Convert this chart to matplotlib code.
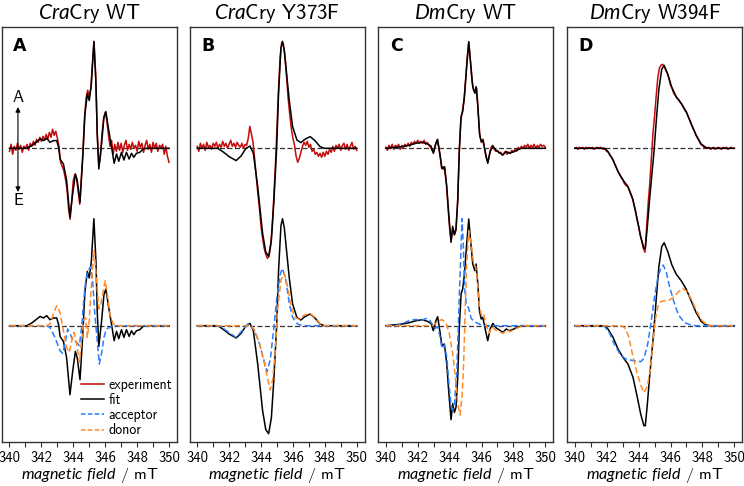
"""
EPR spectra of radical pairs in four cryptochromes, experiment vs. fit
"""

import matplotlib.pyplot as plt
from matplotlib.lines import Line2D
import numpy as np

plt.rcParams["font.family"] = ["cmss10", "DejaVu Sans"]
plt.rcParams["mathtext.fontset"] = "custom"
plt.rcParams["mathtext.rm"] = "cmss10"
plt.rcParams["mathtext.it"] = "Lato:italic"
plt.rcParams["axes.unicode_minus"] = False

# magnetic field grid of the recorded spectra (mT)
field = np.linspace(340.0, 350.0, 101)

titles = [r"$\it{Cra}$Cry WT", r"$\it{Cra}$Cry Y373F", r"$\it{Dm}$Cry WT", r"$\it{Dm}$Cry W394F"]
letters = ["A", "B", "C", "D"]
xticks = [340, 342, 344, 346, 348, 350]

# ---- A: CraCry WT ----
a_exp = [-3, 4, -6, 2, -2, 5, -1, 3, -4, 2,
         0, 4, -2, 5, 2, 7, 3, 9, 6, 11,
         7, 12, 8, 14, 9, 16, 11, 19, 13, 17,
         10, 2, -14, -18, -22, -30, -40, -60, -71, -52,
         -32, -26, -30, -42, -56, -30, -5, 30, 50, 58,
         52, 60, 85, 106, 75, 15, -18, -8, 15, 30,
         36, 28, 14, 2, 8, -6, 4, -3, 6, -2,
         5, -4, 3, 8, -2, 4, -1, 6, 0, 3,
         -3, 7, 1, 5, -4, 3, 8, -1, 4, -4,
         6, 0, 5, -3, 3, 1, 4, -6, 2, -8, -14]
a_fit = np.array([
    [340.0, 0], [341.08, 0], [341.40, 2.7], [341.92, 9.3], [342.13, 7.7], [342.33, 10],
    [342.54, 6], [342.75, 7.7], [342.96, 7.7], [343.08, 1], [343.17, -10.7], [343.38, -15.7],
    [343.58, -32], [343.79, -69], [343.96, -45.7], [344.13, -25.7], [344.25, -32.3],
    [344.42, -54], [344.58, -12.3], [344.73, 34.3], [344.88, 54.3], [345.0, 47.7],
    [345.13, 64.3], [345.29, 107], [345.42, 64.3], [345.5, 14.3], [345.6, -20.7],
    [345.77, 4.3], [345.92, 31], [346.04, 36.7], [346.19, 21], [346.40, 1], [346.56, -15],
    [346.71, -5.7], [346.85, -13], [347.02, -4], [347.17, -11.7], [347.33, -4],
    [347.5, -10.7], [347.65, -5], [347.79, -9], [347.96, -5], [348.17, -4], [348.38, -0.7],
    [348.58, 0], [350.0, 0]])
a_acc = np.array([
    [340.0, 0], [342.33, 0], [342.54, -1.7], [342.85, -11.7], [343.17, -25], [343.33, -27.7],
    [343.48, -18], [343.65, -3.3], [343.79, -8], [344.0, -15], [344.21, -16.7], [344.38, -20],
    [344.52, -1.7], [344.67, 28], [344.79, 46.7], [344.94, 55], [345.08, 59], [345.21, 45],
    [345.35, 11.7], [345.5, -15], [345.63, -38.3], [345.77, -28], [345.92, -11.7],
    [346.08, -3.3], [346.29, -1.7], [346.5, 0], [350.0, 0]])
a_don = np.array([
    [340.0, 0], [342.33, 0], [342.54, 1.7], [342.75, 11.7], [342.96, 20], [343.17, 13.3],
    [343.38, -5], [343.58, -21.7], [343.75, -26.7], [343.9, -15], [344.04, -6.7],
    [344.21, -18.3], [344.38, -36.7], [344.52, -15], [344.67, 6.7], [344.79, 7.7],
    [344.88, -11.7], [345.0, 5], [345.08, 28], [345.21, 58], [345.31, 75], [345.46, 45],
    [345.6, 16.7], [345.73, 21.7], [345.88, 35], [346.0, 45], [346.13, 31.7],
    [346.29, 11.7], [346.5, 1.7], [346.7, 0], [350.0, 0]])

# ---- B: CraCry Y373F ----
b_exp = [2, -3, 5, 0, 4, -2, 6, 1, 3, -1,
         5, 2, 6, 0, 4, 1, 7, 2, 5, 0,
         4, 8, 2, 5, 1, 6, 3, 1, 5, 0,
         4, 3, 10, 22, 14, 6, -10, -28, -45, -60,
         -78, -90, -100, -106, -110, -108, -98, -78, -50, -18,
         20, 60, 92, 106, 104, 92, 72, 50, 34, 20,
         10, 3, -8, -14, -10, -4, 2, 6, 3, 7,
         1, 4, -3, -1, -6, -4, -8, -5, -9, -4,
         -8, -3, -6, -1, -4, 2, -3, 3, 0, 4,
         -2, 3, 5, -1, 4, -2, 2, 6, -1, 2, -2]
b_fit = np.array([
    [340.0, 0], [341.29, 0], [341.6, -3.3], [342.0, -8.3], [342.44, -12.3], [342.75, -7.7],
    [343.06, 0], [343.31, 2.3], [343.52, -5], [343.79, -38], [344.1, -85], [344.3, -104],
    [344.48, -108], [344.65, -92], [344.8, -55], [344.98, 0], [345.1, 55], [345.25, 100],
    [345.35, 107], [345.46, 98], [345.56, 81.7], [345.77, 48], [345.98, 21.7],
    [346.25, 8.3], [346.5, 5.7], [346.75, 9], [347.08, 11.7], [347.38, 7.7], [347.7, 1.7],
    [347.96, 0], [350.0, 0]])
b_acc = np.array([
    [340.0, 0], [341.29, 0], [341.5, -1], [341.92, -6], [342.44, -11.7], [342.85, -4.3],
    [343.23, 2.3], [343.58, -4.3], [343.9, -17.7], [344.17, -34], [344.38, -46],
    [344.58, -34], [344.79, -4.3], [345.0, 29], [345.21, 52], [345.35, 57.3],
    [345.56, 45.7], [345.77, 22.3], [345.98, 8.3], [346.29, 1.7], [346.6, 0], [350.0, 0]])
b_don = np.array([
    [340.0, 0], [343.38, 0], [343.58, -4.3], [343.9, -17.7], [344.21, -37.7], [344.46, -56],
    [344.58, -64.3], [344.73, -54], [344.88, -27.7], [345.04, 15.7], [345.25, 45.7],
    [345.46, 52.3], [345.67, 39], [345.88, 19], [346.13, 8.3], [346.4, 6.3], [346.71, 10.7],
    [347.08, 12.3], [347.44, 7.3], [347.75, 1.3], [347.96, 0], [350.0, 0]])

# ---- C: DmCry WT ----
c_exp = [1, -2, 3, 0, 4, -1, 3, 1, 4, -1,
         3, 1, 4, 2, 5, 2, 6, 4, 7, 5,
         8, 5, 7, 5, 8, 4, 6, 3, 1, -2,
         -4, 3, 8, 2, -7, -20, -21, -19, -36, -58,
         -80, -92, -80, -86, -80, -55, -5, 28, 37, 48,
         68, 90, 106, 88, 68, 58, 57, 60, 35, 12,
         6, 9, -1, -10, -14, -6, 1, 3, -1, -3,
         -2, -5, -4, -7, -5, -3, -6, -4, -5, -2,
         -4, -1, -3, 1, -1, 2, 0, 3, 1, 4,
         0, 3, 1, 4, 0, 3, 1, 4, 2, 3, 1]
c_fit = np.array([
    [340.0, 0], [340.63, 1], [341.05, 1.7], [341.47, 3], [341.89, 5], [342.3, 6],
    [342.62, 4.3], [342.83, 2.3], [342.98, -5], [343.14, 5], [343.25, 9], [343.4, -6.7],
    [343.52, -20], [343.67, -18.3], [343.82, -38], [343.94, -65], [344.09, -94],
    [344.19, -78], [344.3, -86.7], [344.4, -81.7], [344.51, -51.7], [344.61, -1.7],
    [344.72, 31.7], [344.82, 36.7], [344.93, 51.7], [345.07, 81.7], [345.2, 106.7],
    [345.3, 88.3], [345.45, 61.7], [345.58, 55], [345.66, 61.7], [345.77, 41.7],
    [345.87, 15], [345.98, 6.7], [346.08, 8.3], [346.23, -3.3], [346.39, -15],
    [346.54, -3.3], [346.71, 2.3], [346.92, -2.3], [347.13, -4.3], [347.34, -6.7],
    [347.55, -3.3], [347.76, -5], [348.07, -3], [348.49, 0], [350.0, 0]])
c_acc = np.array([
    [340.0, 0], [340.63, 0], [341.05, 2.3], [341.47, 5], [341.89, 6.3], [342.2, 5],
    [342.52, 7.3], [342.73, 6.3], [342.94, 0.7], [343.1, -2.7], [343.25, -1], [343.4, -11],
    [343.52, -22.7], [343.67, -19.3], [343.82, -31], [343.94, -54.3], [344.09, -79.3],
    [344.19, -84.3], [344.3, -77.7], [344.44, -51], [344.57, 12.3], [344.68, 62.3],
    [344.78, 107], [344.86, 80], [344.95, 35], [345.05, 22], [345.2, 17.3], [345.35, 7.3],
    [345.56, 4], [345.77, 2.3], [345.98, 0.7], [346.2, 0], [350.0, 0]])
c_don = np.array([
    [340.0, 0], [342.94, 0], [343.25, 4], [343.52, 6.3], [343.78, 2.3], [343.98, -7.7],
    [344.19, -27.7], [344.36, -51], [344.51, -77.7], [344.65, -89.3], [344.78, -71],
    [344.88, -37.7], [344.97, 12.3], [345.07, 62.3], [345.2, 95], [345.35, 82.3],
    [345.5, 62.3], [345.62, 59], [345.7, 52.3], [345.87, 19], [346.02, 9], [346.14, 10.7],
    [346.29, 0.7], [346.46, -7.7], [346.67, -1], [346.88, -4.3], [347.13, -6],
    [347.34, -7.7], [347.59, -4.3], [347.8, -6], [348.18, -2.7], [348.6, 0], [350.0, 0]])

# ---- D: DmCry W394F ----
d_exp = [0, 1, -1, 1, 0, 1, -1, 1, 0, 1,
         0, 1, -1, 0, 1, 0, 1, 0, -1, -1,
         -3, -4, -7, -9, -12, -16, -19, -23, -26, -29,
         -31, -35, -37, -38, -41, -45, -49, -56, -62, -71,
         -78, -87, -93, -100, -104, -80, -55, -35, -10, 15,
         32, 52, 70, 80, 83, 84, 82, 78, 75, 70,
         63, 60, 55, 53, 50, 49, 46, 44, 41, 38,
         36, 32, 28, 24, 20, 17, 13, 10, 7, 4,
         3, 1, 1, 0, 1, -1, 0, 1, -1, 0,
         1, 0, -1, 1, 0, 1, -1, 0, 1, 0, 0]
d_fit = np.array([
    [340.0, 0], [341.88, 0], [342.08, -3.3], [342.4, -11.7], [342.71, -23.3],
    [343.02, -31.7], [343.33, -38.3], [343.65, -51.7], [343.92, -71.7], [344.13, -88.3],
    [344.33, -100], [344.42, -100], [344.55, -78], [344.69, -51], [344.96, -4],
    [345.12, 30], [345.27, 59], [345.45, 79], [345.6, 83], [345.83, 74], [346.08, 61],
    [346.35, 51.7], [346.67, 45], [346.98, 36.7], [347.29, 25], [347.6, 13.3],
    [347.92, 4.3], [348.23, 0.7], [348.5, 0], [350.0, 0]])
d_acc = np.array([
    [340.0, 0], [341.7, 0], [341.88, -1], [342.19, -7.7], [342.5, -19.3], [342.81, -27.7],
    [343.13, -32.7], [343.44, -34.3], [343.85, -35.3], [344.13, -36], [344.33, -32.7],
    [344.58, -17.7], [344.83, 9], [345.0, 29], [345.21, 49], [345.42, 58.3],
    [345.54, 60.7], [345.73, 54], [345.94, 39], [346.21, 24], [346.5, 10.7], [346.88, 3],
    [347.29, 0.7], [347.6, 0], [350.0, 0]])
d_don = np.array([
    [340.0, 0], [342.92, 0], [343.17, -2.7], [343.38, -11], [343.58, -26], [343.85, -44.3],
    [344.13, -59.3], [344.33, -67], [344.54, -61], [344.73, -44.3], [344.9, -17.7],
    [345.04, 5.7], [345.21, 19], [345.38, 24], [345.63, 25], [345.94, 25.7], [346.21, 29],
    [346.5, 34], [346.77, 37.3], [347.04, 34], [347.33, 25.7], [347.6, 15.7],
    [347.92, 6.3], [348.23, 1.3], [348.5, 0], [350.0, 0]])

RED = "#c40a0a"
BLUE = "#2a7cff"
ORANGE = "#ff8a2a"

# vertical layout (intensity in a.u., stacked)
EXP_OFF = 294
SIM_OFF = 116.6
YMAX = 415.3


def drawPanel(ax, exp, fit, acc, don):
    dash = (0, (4, 2))
    ax.hlines([EXP_OFF, SIM_OFF], field[0], field[-1], colors="#333333",
              linestyles=dash, lw=0.9, zorder=1)

    # experiment with fit on top
    ax.plot(field, np.array(exp) + EXP_OFF, color=RED, lw=1.1, zorder=2)
    ax.plot(fit[:, 0], fit[:, 1] + EXP_OFF, color="black", lw=1.1, zorder=3)

    # fit decomposed into acceptor and donor contributions
    ax.plot(fit[:, 0], fit[:, 1] + SIM_OFF, color="black", lw=1.1, zorder=2)
    ax.plot(acc[:, 0], acc[:, 1] + SIM_OFF, color=BLUE, lw=1.1, ls=dash, zorder=3)
    ax.plot(don[:, 0], don[:, 1] + SIM_OFF, color=ORANGE, lw=1.1, ls=dash, zorder=4)

    ax.set_xlim(339.53, 350.5)
    ax.set_ylim(0, YMAX)
    ax.set_xticks(xticks)
    ax.set_xticks(range(341, 350, 2), minor=True)
    ax.tick_params(axis="x", which="both", direction="out", length=3.5,
                   width=0.8, labelsize=10.5, pad=2.5, color="#333333")
    ax.yaxis.set_ticks([])
    for side in ax.spines.values():
        side.set_color("#333333")
        side.set_linewidth(1.0)
    ax.set_xlabel(r"$\it{magnetic\ field}$ / mT", fontsize=11.5, labelpad=1)


if __name__ == "__main__":

    fig = plt.figure(figsize=(7.44, 4.86), dpi=100)
    lefts = [2, 189.7, 378.3, 567.3]
    panels = [(a_exp, a_fit, a_acc, a_don), (b_exp, b_fit, b_acc, b_don),
              (c_exp, c_fit, c_acc, c_don), (d_exp, d_fit, d_acc, d_don)]

    for i, (exp, fit, acc, don) in enumerate(panels):
        ax = fig.add_axes([lefts[i] / 744, 43.7 / 486, 175 / 744, 415.3 / 486])
        drawPanel(ax, exp, fit, acc, don)
        ax.set_title(titles[i], fontsize=15, pad=6)
        ax.text(0.065, 0.975, letters[i], transform=ax.transAxes, fontsize=12.5,
                fontweight="bold", family="DejaVu Sans", va="top", ha="left")

        if i == 0:
            # absorption / emission arrow
            ax.annotate("", xy=(340.53, 335.3), xytext=(340.53, 250.3),
                        arrowprops=dict(arrowstyle="<|-|>", color="black",
                                        lw=0.8, mutation_scale=7,
                                        shrinkA=0, shrinkB=0))
            ax.text(340.53, 345.3, "A", ha="center", va="center", fontsize=12)
            ax.text(340.53, 241.8, "E", ha="center", va="center", fontsize=12)

            handles = [Line2D([], [], color=RED, lw=1.1),
                       Line2D([], [], color="black", lw=1.1),
                       Line2D([], [], color=BLUE, lw=1.1, ls=(0, (3, 1.5))),
                       Line2D([], [], color=ORANGE, lw=1.1, ls=(0, (3, 1.5)))]
            ax.legend(handles, ["experiment", "fit", "acceptor", "donor"],
                      loc="lower right", frameon=False, fontsize=10,
                      handlelength=1.7, handletextpad=0.3, labelspacing=0.08,
                      borderaxespad=0.0, borderpad=0.35)

    plt.savefig("out.png", dpi=100)
    print("DONE")
